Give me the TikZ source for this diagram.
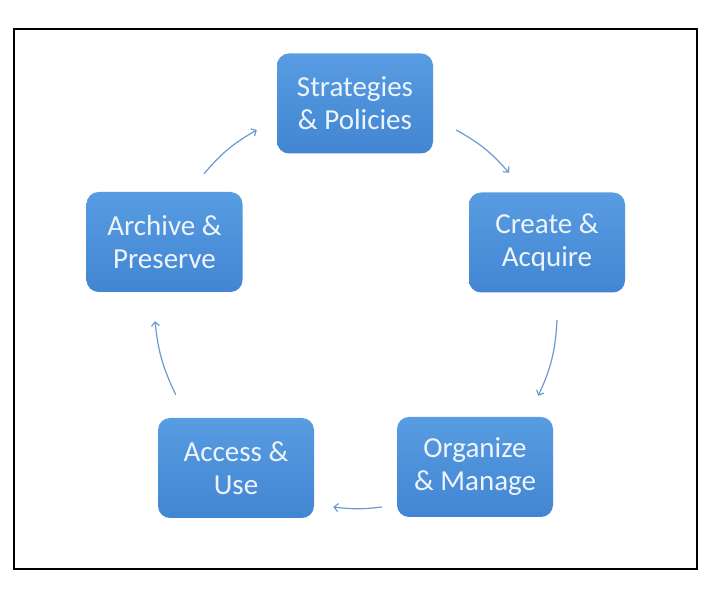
\documentclass[tikz,border=0pt]{standalone}
\usepackage{fontspec}
\setmainfont{Carlito}
\usetikzlibrary{arrows.meta,positioning}
\definecolor{stepblue}{HTML}{4A8FDB}
\definecolor{steptop}{HTML}{589CE2}
\definecolor{stepbot}{HTML}{4285D2}
\definecolor{paletext}{HTML}{EEF4FB}
\definecolor{loopblue}{HTML}{6A9AD2}
\tikzset{
  stepbox/.style={rounded corners=12pt, top color=steptop, bottom color=stepbot,
              minimum width=156pt, minimum height=100pt, align=center, inner sep=2pt,
              text=paletext, font=\fontsize{29}{33}\selectfont},
  flow/.style={-{Straight Barb[length=4pt,width=8pt]}, line width=1.2pt, loopblue},
}

\begin{document}
\begin{tikzpicture}[x=1pt, y=1pt]
        \useasboundingbox (0,0) rectangle (724,597);
        \draw[line width=2pt] (14,28) rectangle (697,568);
        \foreach \n/\x/\y/\t in {sp/355/493.5/{Strategies\\\& Policies},
                                 ca/547/354.5/{Create \&\\Acquire},
                                 om/475/130/{Organize\\\& Manage},
                                 au/236/129/{Access \&\\Use},
                                 ap/164.5/355/{Archive \&\\Preserve}}
          { \node[stepbox] (\n) at (\x,\y) {\t}; }
        % cycle arrows
        \draw[flow] ([shift={(23,-26.5)}]sp.east) to[bend left=10] ([shift={(-38,19.5)}]ca.north);
        \draw[flow] ([shift={(10,-27.5)}]ca.south) to[bend left=11] ([shift={(-15,21)}]om.north east);
        \draw[flow] ([shift={(-15,-40)}]om.west) to[bend left=7] ([shift={(19,-39)}]au.east);
        \draw[flow] ([shift={(18,23)}]au.north west) to[bend left=10] ([shift={(-9.5,-29)}]ap.south);
        \draw[flow] ([shift={(39.5,18)}]ap.north) to[bend left=10] ([shift={(-20,-26.5)}]sp.west);
      \end{tikzpicture}
\end{document}
